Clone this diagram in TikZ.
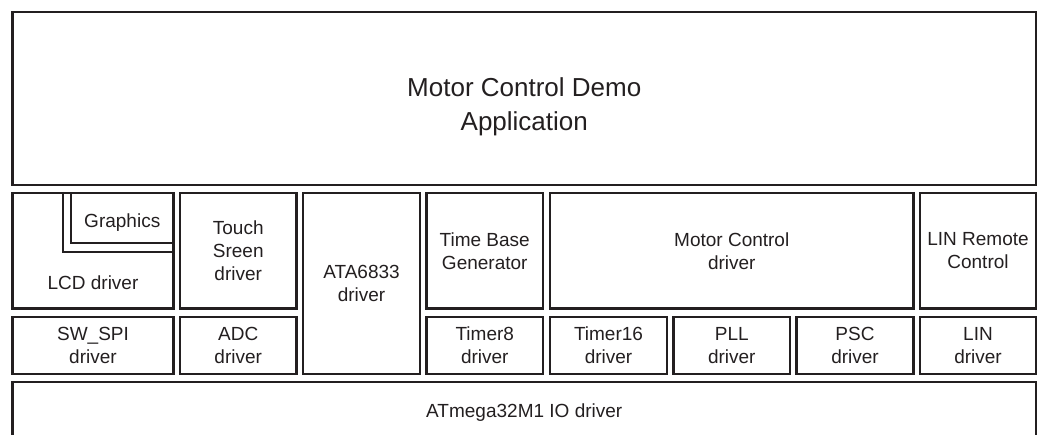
\documentclass[tikz,border=0pt]{standalone}
\usepackage{fontspec}
\setmainfont{Liberation Sans}
\usetikzlibrary{positioning,calc}
\definecolor{ink}{HTML}{231F20}
\tikzset{
  blk/.style ={draw=ink,line width=2.4pt,inner sep=0pt,align=center,text=ink,
               font=\fontsize{19}{23}\selectfont},
  txt/.style ={inner sep=0pt,align=center,text=ink,font=\fontsize{19}{23}\selectfont},
  big/.style ={txt,font=\fontsize{26}{34}\selectfont},
  sz/.style 2 args={minimum width=#1pt,minimum height=#2pt},
  wire/.style={draw=ink,line width=2.4pt},
}

\begin{document}
\begin{tikzpicture}[x=1pt,y=-1pt]
\clip (0,0) rectangle (1043,435);
% application layer
\node[blk,sz={1023.5}{173}] (APP) at (524.25,98.5) {};
\node[big] (APPt) at ($(APP.center)+(0,8)$) {Motor Control Demo\\Application};
% upper driver row
\node[blk,sz={161}{115.5}] (LCD) at (93,250.75) {};
\node[txt,above=20pt of LCD.south] (LCDt) {LCD driver};
\node[blk,sz={102.5}{50}] (GFX) at (122.25,218) {};
\node[txt,below=22pt of GFX.north] (GFXt) {Graphics};
\draw[wire] ($(GFX.north west)+(-7,0)$) |- ($(GFX.south east)+(0,8)$);
\node[blk,sz={116.5}{115.5}] (TS) at (238.25,250.75) {Touch\\Sreen\\driver};
\node[blk,sz={117}{181}] (ATA) at (361.5,283.5) {ATA6833\\driver};
\node[blk,sz={116.5}{115.5}] (TB) at (484.75,250.75) {Time Base\\Generator};
\node[blk,sz={363.5}{115.5}] (MC) at (731.75,250.75) {Motor Control\\driver};
\node[blk,sz={116}{115.5}] (LRC) at (978,250.75) {LIN Remote\\Control};
% lower driver row
\node[blk,sz={161}{57}] (SPI) at (93,345.5) {SW\_SPI\\driver};
\node[blk,sz={116.5}{57}] (ADC) at (238.25,345.5) {ADC\\driver};
\node[blk,sz={116.5}{57}] (T8) at (484.75,345.5) {Timer8\\driver};
\node[blk,sz={117}{57}] (T16) at (608.5,345.5) {Timer16\\driver};
\node[blk,sz={116.5}{57}] (PLL) at (731.75,345.5) {PLL\\driver};
\node[blk,sz={117}{57}] (PSC) at (855,345.5) {PSC\\driver};
\node[blk,sz={116}{57}] (LIN) at (978,345.5) {LIN\\driver};
% io layer
\node[blk,sz={1023.5}{60}] (IO) at (524.25,412) {};
\node[txt] (IOt) at ($(IO.center)+(0,1)$) {ATmega32M1 IO driver};
\end{tikzpicture}
\end{document}
